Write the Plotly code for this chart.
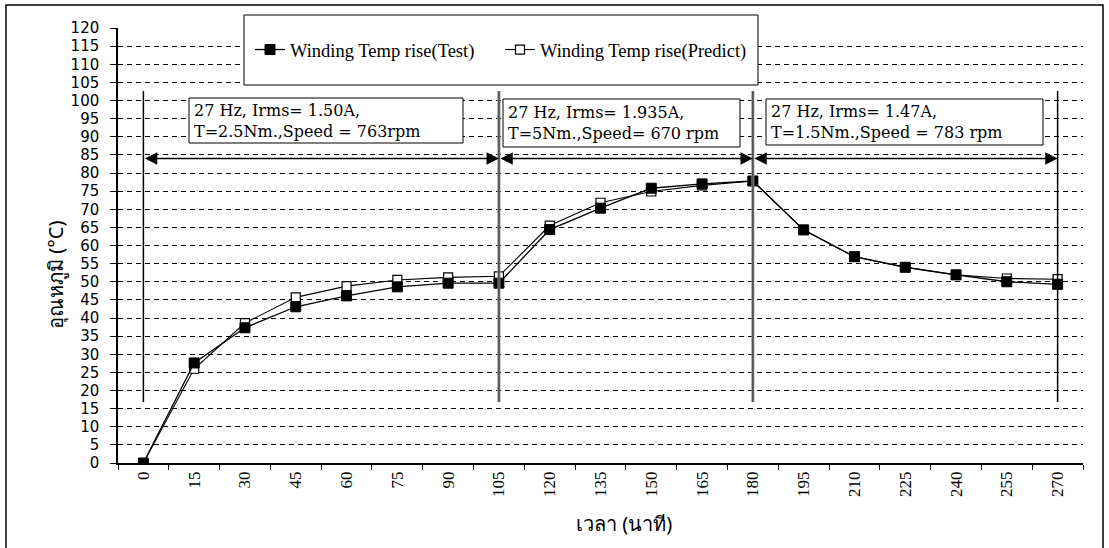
import plotly.graph_objects as go

# ---- data ----
time_min = [0, 15, 30, 45, 60, 75, 90, 105, 120, 135, 150, 165, 180, 195, 210, 225, 240, 255, 270]
test_rise = [0, 27.6, 37.3, 43.1, 46.1, 48.6, 49.6, 49.6, 64.4, 70.3, 75.8, 77.0, 77.8, 64.3, 56.9, 54.0, 51.9, 50.0, 49.3]
pred_rise = [0, 26.0, 38.6, 45.7, 48.8, 50.5, 51.2, 51.5, 65.5, 71.8, 74.9, 76.6, 77.8, 64.3, 56.9, 54.0, 51.9, 50.9, 50.7]
series_names = ["Winding Temp rise(Test)", "Winding Temp rise(Predict)"]
segment_bounds = [0, 105, 180, 270]
segment_labels = [
    "27 Hz, Irms= 1.50A,<br>T=2.5Nm.,Speed = 763rpm",
    "27 Hz, Irms= 1.935A,<br>T=5Nm.,Speed= 670 rpm",
    "27 Hz, Irms= 1.47A,<br>T=1.5Nm.,Speed = 783 rpm",
]
y_title = "อุณหภูมิ (°C)"
x_title = "เวลา (นาที)"

cats = [str(t) for t in time_min]

W, H = 1109, 548
L, R, T, B = 118, 1083, 28, 463


def px(x):
    return (x - L) / (R - L)


def py(y):
    return (B - y) / (B - T)


def cidx(v):
    return time_min.index(v)


fig = go.Figure()
# Predict drawn first so the filled Test squares sit on top
fig.add_trace(go.Scatter(
    x=cats, y=pred_rise, name=series_names[1], mode="lines+markers", legendrank=2,
    line=dict(color="black", width=1.1),
    marker=dict(symbol="square", size=9, color="white", line=dict(color="black", width=1.2)),
))
fig.add_trace(go.Scatter(
    x=cats, y=test_rise, name=series_names[0], mode="lines+markers", legendrank=1,
    line=dict(color="black", width=1.3),
    marker=dict(symbol="square", size=10, color="black", line=dict(color="black", width=1)),
))

shapes = []
# outer frame
shapes.append(dict(type="rect", xref="paper", yref="paper",
                   x0=px(6), x1=px(1103), y0=py(5), y1=py(560),
                   line=dict(color="black", width=1.5), fillcolor="rgba(0,0,0,0)", layer="above"))
# vertical segment lines
for b in segment_bounds:
    gray = b in (105, 180)
    xi = cidx(b)
    shapes.append(dict(type="line", xref="x", yref="y", x0=xi, x1=xi, y0=16.8, y1=102.6,
                       line=dict(color="#8a8a8a" if gray else "black", width=3 if gray else 1.5),
                       layer="above"))
    if gray:
        shapes.append(dict(type="line", xref="x", yref="y", x0=xi, x1=xi, y0=16.8, y1=102.6,
                           line=dict(color="#333333", width=1), layer="above"))
# legend box
shapes.append(dict(type="rect", xref="paper", yref="paper",
                   x0=px(244), x1=px(758), y0=py(15), y1=py(85),
                   line=dict(color="black", width=1), fillcolor="white", layer="above"))
# annotation boxes
boxes = [(189, 463, 98, 143), (503, 740, 99, 147), (766, 1043, 99, 145)]
for (x0, x1, y0, y1) in boxes:
    shapes.append(dict(type="rect", xref="paper", yref="paper",
                       x0=px(x0), x1=px(x1), y0=py(y0), y1=py(y1),
                       line=dict(color="black", width=1), fillcolor="white", layer="above"))

annotations = []
for (x0, x1, y0, y1), txt in zip(boxes, segment_labels):
    annotations.append(dict(xref="paper", yref="paper", x=px(x0 + 3), y=py((y0 + y1) / 2),
                            xanchor="left", yanchor="middle", align="left", showarrow=False,
                            text=txt, font=dict(family="DejaVu Serif", size=16, color="black")))
# double arrows
for a, b in zip(segment_bounds[:-1], segment_bounds[1:]):
    annotations.append(dict(xref="x", yref="y", axref="x", ayref="y",
                            x=cidx(b), y=84, ax=cidx(a), ay=84, text="",
                            showarrow=True, arrowside="end+start", arrowhead=2,
                            arrowsize=1.9, arrowwidth=1.3, arrowcolor="black"))
# axis titles
annotations.append(dict(xref="paper", yref="paper", x=px(55), y=py(275), text=y_title,
                        textangle=-90, showarrow=False, xanchor="center", yanchor="middle",
                        font=dict(family="Noto Sans, DejaVu Sans", size=20, color="black")))
annotations.append(dict(xref="paper", yref="paper", x=px(624), y=py(523), text=x_title,
                        showarrow=False, xanchor="center", yanchor="middle",
                        font=dict(family="Noto Sans, DejaVu Sans", size=20, color="black")))

fig.update_layout(
    width=W, height=H,
    margin=dict(l=L, r=W - R, t=T, b=H - B),
    paper_bgcolor="white", plot_bgcolor="white",
    shapes=shapes, annotations=annotations,
    showlegend=True,
    legend=dict(orientation="h", xref="paper", yref="paper", x=px(250), y=py(50),
                xanchor="left", yanchor="middle", bgcolor="rgba(0,0,0,0)", borderwidth=0,
                entrywidth=205, entrywidthmode="pixels",
                font=dict(family="Liberation Serif", size=18.5, color="black")),
    xaxis=dict(type="category", tickson="boundaries", ticks="outside", ticklen=5,
               tickcolor="black", showline=True, linecolor="black", linewidth=1.5,
               showgrid=False, tickangle=-90, range=[-0.5, 18.5],
               tickfont=dict(family="Liberation Serif", size=17, color="black")),
    yaxis=dict(range=[0, 120], dtick=5, tick0=0, ticks="outside", ticklen=6,
               tickcolor="black", showline=True, linecolor="black", linewidth=1.5,
               showgrid=True, gridcolor="black", gridwidth=1, griddash="5px,4px",
               zeroline=False, ticklabelstandoff=8,
               tickfont=dict(family="DejaVu Sans", size=15, color="black")),
)

fig.write_html("out.html")
